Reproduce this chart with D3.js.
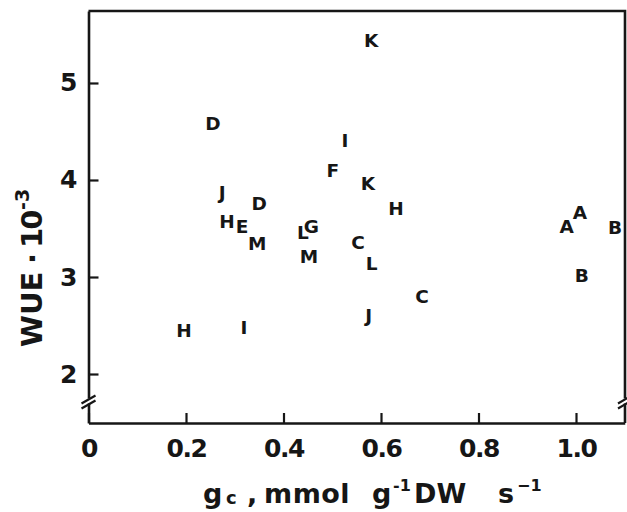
<!DOCTYPE html>
<html>
<head>
<meta charset="utf-8">
<script src="https://cdn.jsdelivr.net/npm/d3@7"></script>
<style>
  html, body { margin: 0; padding: 0; background: #fff; }
  svg text { font-family: "DejaVu Sans", sans-serif; fill: #161616; }
</style>
</head>
<body>
<svg id="chart" width="627" height="512"></svg>
<script>
// Species codes with canopy conductance (g_c) and water-use efficiency (WUE · 10^-3)
const labels = ["K","D","I","F","K","J","D","H","H","E","M","G","L","M","C","L","C","J","H","I","A","A","B","B"];
const gc     = [0.580,0.255,0.526,0.501,0.573,0.274,0.350,0.631,0.284,0.315,0.346,0.457,0.440,0.452,0.553,0.581,0.684,0.575,0.196,0.319,0.981,1.008,1.080,1.012];
const wue    = [5.44,4.58,4.41,4.10,3.96,3.87,3.76,3.71,3.57,3.52,3.35,3.52,3.46,3.21,3.36,3.14,2.80,2.60,2.45,2.48,3.52,3.66,3.51,3.02];

const xTicks = [0, 0.2, 0.4, 0.6, 0.8, 1.0];
const xTickLabels = ["0", "0.2", "0.4", "0.6", "0.8", "1.0"];
const yTicks = [2, 3, 4, 5];
const yTickLabels = ["2", "3", "4", "5"];

const svg = d3.select("#chart");
const plotLeft = 88.5, plotRight = 625, plotTop = 11, plotBottom = 423;

const x = d3.scaleLinear().domain([0, 1.1]).range([plotLeft, plotLeft + 1.1 * 487.5]);
const y = d3.scaleLinear().domain([1.495, 5.742]).range([plotBottom, plotTop]);

const ink = "#161616";
const font = "'DejaVu Sans', sans-serif";

// frame: top and right edges
svg.append("path")
  .attr("d", `M${plotLeft},${plotTop}H${plotRight}V${plotBottom}`)
  .attr("fill", "none").attr("stroke", ink).attr("stroke-width", 2.6);

// bottom axis with inward ticks
const gx = svg.append("g").attr("transform", `translate(0,${plotBottom})`)
  .call(d3.axisBottom(x).tickValues(xTicks)
    .tickFormat((d, i) => xTickLabels[i])
    .tickSizeInner(-10).tickSizeOuter(0).tickPadding(16));
gx.select(".domain").attr("stroke", ink).attr("stroke-width", 2.6);
gx.selectAll(".tick line").attr("stroke", ink).attr("stroke-width", 2.2);
gx.selectAll(".tick text")
  .attr("font-size", 25).attr("font-weight", "bold").attr("fill", ink)
  .attr("letter-spacing", -1.5).attr("font-family", font);

// left axis with inward ticks
const gy = svg.append("g").attr("transform", `translate(${plotLeft},0)`)
  .call(d3.axisLeft(y).tickValues(yTicks)
    .tickFormat((d, i) => yTickLabels[i])
    .tickSizeInner(-10).tickSizeOuter(0).tickPadding(11));
gy.select(".domain").attr("stroke", ink).attr("stroke-width", 2.6);
gy.selectAll(".tick line").attr("stroke", ink).attr("stroke-width", 2.2);
gy.selectAll(".tick text")
  .attr("font-size", 25).attr("font-weight", "bold").attr("fill", ink)
  .attr("font-family", font);

// axis break marks on the left and right edges
function breakMark(cx, cy) {
  const g = svg.append("g").attr("stroke", ink).attr("stroke-width", 2.2).attr("fill", "none");
  g.append("rect").attr("x", cx - 3).attr("y", cy - 3.5).attr("width", 6).attr("height", 5)
    .attr("fill", "#fff").attr("stroke", "none");
  [-2.5, 2.5].forEach(o => {
    g.append("line")
      .attr("x1", cx - 7).attr("y1", cy + o + 4)
      .attr("x2", cx + 7).attr("y2", cy + o - 4);
  });
}
breakMark(plotLeft, 402);
breakMark(plotRight, 402);

// letter markers
svg.append("g").selectAll("text")
  .data(labels.map((l, i) => ({ l, gx: gc[i], w: wue[i] })))
  .join("text")
  .attr("x", d => x(d.gx))
  .attr("y", d => y(d.w))
  .attr("text-anchor", "middle")
  .attr("dominant-baseline", "central")
  .attr("font-family", font)
  .attr("font-weight", "bold")
  .attr("font-size", 18.5)
  .text(d => d.l);

// x axis title, pieces placed along the baseline
const xt = svg.append("text")
  .attr("y", 503)
  .attr("font-size", 27).attr("font-weight", "bold")
  .attr("font-family", font);
xt.append("tspan").attr("x", 203).text("g");
xt.append("tspan").attr("x", 226).attr("font-size", 18).attr("dy", 1).text("c");
xt.append("tspan").attr("x", 247).attr("dy", -1).text(",");
xt.append("tspan").attr("x", 264).attr("letter-spacing", 0.5).text("mmol");
xt.append("tspan").attr("x", 372).text("g");
xt.append("tspan").attr("x", 393).attr("font-size", 16).attr("dy", -12).text("-1");
xt.append("tspan").attr("x", 414).attr("dy", 12).text("DW");
xt.append("tspan").attr("x", 498).text("s");
xt.append("tspan").attr("x", 517).attr("font-size", 16).attr("dy", -12).text("\u22121");

// y axis title, rotated and read bottom to top
const yt = svg.append("text")
  .attr("transform", "translate(42,347) rotate(-90)")
  .attr("font-size", 29).attr("font-weight", "bold")
  .attr("font-family", font);
yt.append("tspan").attr("x", 0).text("WUE");
yt.append("tspan").attr("x", 83).text("\u00b7");
yt.append("tspan").attr("x", 99).attr("letter-spacing", -2).text("10");
yt.append("tspan").attr("x", 137).attr("font-size", 19).attr("dy", -13).text("-3");
</script>
</body>
</html>
